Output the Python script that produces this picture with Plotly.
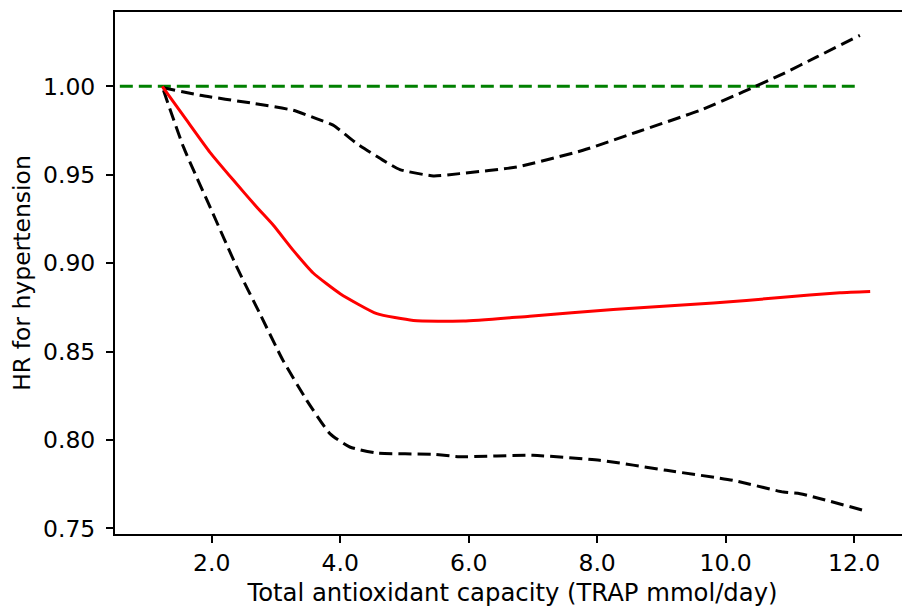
import plotly.graph_objects as go

# HR curve (spline estimate) and 95% CI bounds
x_hr = [1.23, 1.61, 1.97, 2.34, 2.70, 2.96, 3.27, 3.58, 4.0, 4.57, 5.14, 5.92,
        6.95, 8.25, 9.81, 10.85, 11.78, 12.25]
y_hr = [1.0, 0.9808, 0.9628, 0.9468, 0.9317, 0.9214, 0.9072, 0.8944, 0.8827,
        0.8714, 0.8676, 0.8672, 0.870, 0.8737, 0.8774, 0.8805, 0.8833, 0.884]

x_upper = [1.23, 1.82, 2.6, 3.27, 3.63, 3.89, 4.26, 4.67, 4.93, 5.45, 5.86,
           6.75, 7.78, 8.61, 9.6, 10.27, 10.9, 11.42, 12.09]
y_upper = [0.9993, 0.9949, 0.9906, 0.9864, 0.9817, 0.978, 0.9676, 0.9581, 0.9529,
           0.9493, 0.9506, 0.9544, 0.9638, 0.974, 0.9864, 0.9968, 1.0072, 1.0166, 1.0288]

x_lower = [1.25, 1.56, 2.02, 2.39, 2.75, 3.11, 3.48, 3.84, 4.15, 4.57, 5.45,
           5.86, 7.0, 8.04, 9.08, 10.12, 10.9, 11.16, 12.14]
y_lower = [0.9977, 0.9657, 0.928, 0.8978, 0.8714, 0.845, 0.8224, 0.8036, 0.796,
           0.7926, 0.7919, 0.7905, 0.7913, 0.7885, 0.7828, 0.7771, 0.7705, 0.7696, 0.7602]

x_ref = [0.57, 12.01]
y_ref = [1.0, 1.0]

x_ticks = [2, 4, 6, 8, 10, 12]
x_ticklabels = ["2.0", "4.0", "6.0", "8.0", "10.0", "12.0"]
y_ticks = [0.75, 0.80, 0.85, 0.90, 0.95, 1.00]
y_ticklabels = ["0.75", "0.80", "0.85", "0.90", "0.95", "1.00"]

font = "DejaVu Sans"
dash = "13px,6px"

fig = go.Figure()
fig.add_trace(go.Scatter(x=x_ref, y=y_ref, mode="lines",
                         line=dict(color="#008000", width=3, dash=dash)))
fig.add_trace(go.Scatter(x=x_upper, y=y_upper, mode="lines",
                         line=dict(color="black", width=3, dash=dash,
                                   shape="spline", smoothing=0.5)))
fig.add_trace(go.Scatter(x=x_lower, y=y_lower, mode="lines",
                         line=dict(color="black", width=3, dash=dash,
                                   shape="spline", smoothing=0.5)))
fig.add_trace(go.Scatter(x=x_hr, y=y_hr, mode="lines",
                         line=dict(color="#ff0000", width=3,
                                   shape="spline", smoothing=0.5)))

# page body has an 8px margin, so the figure is 902x600 and sits at (8, 8)
fig.update_layout(
    width=902, height=600,
    margin=dict(l=107, r=0, t=4, b=74),
    paper_bgcolor="white", plot_bgcolor="white",
    showlegend=False,
    font=dict(family=font, size=23.5, color="black"),
)
fig.update_xaxes(
    range=[0.495, 12.87], automargin=False,
    tickvals=x_ticks, ticktext=x_ticklabels,
    showgrid=False, zeroline=False,
    showline=True, linecolor="black", linewidth=2, mirror=True,
    ticks="outside", ticklen=7, tickwidth=1.5, tickcolor="black",
    ticklabelstandoff=0,
    title=dict(text="Total antioxidant capacity (TRAP mmol/day)", standoff=8,
               font=dict(size=24.3)),
)
fig.update_yaxes(
    range=[0.7468, 1.042], automargin=False,
    tickvals=y_ticks, ticktext=y_ticklabels,
    showgrid=False, zeroline=False,
    showline=True, linecolor="black", linewidth=2, mirror=False,
    ticks="outside", ticklen=7, tickwidth=1.5, tickcolor="black",
    ticklabelstandoff=6,
    title=dict(text="HR for hypertension", standoff=14, font=dict(size=23.5)),
)

fig.write_html("out.html")
